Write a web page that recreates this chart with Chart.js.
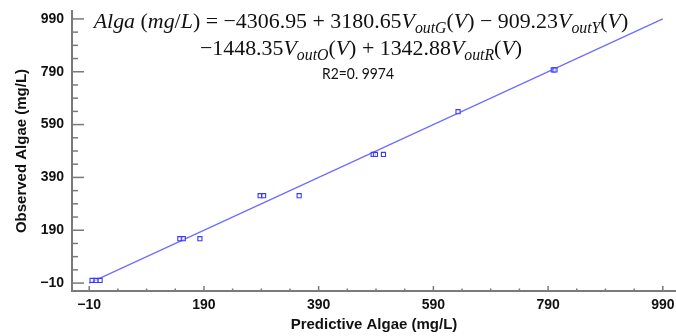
<!DOCTYPE html>
<html>
<head>
<meta charset="utf-8">
<script src="https://cdn.jsdelivr.net/npm/chart.js@4/dist/chart.umd.min.js"></script>
<style>
html,body{margin:0;padding:0;background:#fff;}
#wrap{width:676px;height:336px;position:relative;}
</style>
</head>
<body>
<div id="wrap"><canvas id="c" width="676" height="336"></canvas></div>
<script>
// ---- data ----
const predictedAlgae = [-5, 2, 9, 148, 154, 183, 288, 294, 356, 485, 489, 503, 633, 799, 802];
const observedAlgae  = [0, 0, 0, 158, 158, 158, 321, 321, 321, 477, 477, 477, 639, 797, 797];
const fitLineX = [-10, 990];
const fitLineY = [-10, 990];
const majorTicks = [-10, 190, 390, 590, 790, 990];
const minorTicks = [40, 90, 140, 240, 290, 340, 440, 490, 540, 640, 690, 740, 840, 890, 940];
const majorTickLabels = ['\u221210', '190', '390', '590', '790', '990'];
const xAxisTitle = 'Predictive Algae (mg/L)';
const yAxisTitle = 'Observed Algae (mg/L)';
const equationLine1 = [
  ['Alga','i'],[' (','r'],['mg','i'],['/','r'],['L','i'],[') = \u22124306.95 + 3180.65','r'],
  ['V','i'],['outG','s'],['(','r'],['V','i'],[') \u2212 909.23','r'],
  ['V','i'],['outY','s'],['(','r'],['V','i'],[')','r']
];
const equationLine2 = [
  ['\u22121448.35','r'],['V','i'],['outO','s'],['(','r'],['V','i'],[') + 1342.88','r'],
  ['V','i'],['outR','s'],['(','r'],['V','i'],[')','r']
];
const r2Text = 'R2=0. 9974';

const allTicks = majorTicks.concat(minorTicks).sort((a,b)=>a-b);
const axisGray = '#7a7a7a';
const tickFont = {family:'"Liberation Sans", Arial, sans-serif', weight:'bold', size:14};
const titleFont = {family:'"Liberation Sans", Arial, sans-serif', weight:'bold', size:15};

function labelFor(v){
  const i = majorTicks.indexOf(v);
  return i >= 0 ? majorTickLabels[i] : '';
}

const tickMarks = {
  id:'tickMarks',
  afterDraw(chart){
    const {ctx, scales:{x, y}, chartArea:a} = chart;
    ctx.save();
    ctx.strokeStyle = axisGray;
    ctx.lineWidth = 1.5;
    allTicks.forEach(v => {
      const major = majorTicks.includes(v);
      const py = y.getPixelForValue(v);
      ctx.beginPath(); ctx.moveTo(a.left, py); ctx.lineTo(a.left + (major ? 12 : 6), py); ctx.stroke();
      const px = x.getPixelForValue(v);
      ctx.beginPath(); ctx.moveTo(px, a.bottom); ctx.lineTo(px, a.bottom - (major ? 5 : 2.5)); ctx.stroke();
    });
    ctx.restore();
  }
};

function fontFor(kind, fs){
  const fam = '"Liberation Serif", "Times New Roman", serif';
  if (kind === 'i') return 'italic ' + fs + 'px ' + fam;
  if (kind === 's') return 'italic ' + (fs*0.72).toFixed(2) + 'px ' + fam;
  return fs + 'px ' + fam;
}
function lineWidth(ctx, segs, fs){
  let w = 0;
  segs.forEach(([t,k]) => { ctx.font = fontFor(k, fs); w += ctx.measureText(t).width; });
  return w;
}
function drawLine(ctx, segs, fs, cx, baseY){
  let x = cx - lineWidth(ctx, segs, fs)/2;
  segs.forEach(([t,k]) => {
    ctx.font = fontFor(k, fs);
    ctx.fillText(t, x, k === 's' ? baseY + fs*0.22 : baseY);
    x += ctx.measureText(t).width;
  });
}

const equationPlugin = {
  id:'equation',
  afterDraw(chart){
    const ctx = chart.ctx;
    ctx.save();
    ctx.fillStyle = '#111';
    ctx.textBaseline = 'alphabetic';
    const w20 = lineWidth(ctx, equationLine1, 20);
    const fs = 20 * 535 / w20;
    drawLine(ctx, equationLine1, fs, 361, 28);
    drawLine(ctx, equationLine2, fs, 361, 55);
    // R2 label: Calibri-like narrow sans
    ctx.font = '15.5px Lato, sans-serif';
    const rw = ctx.measureText(r2Text).width;
    const sx = Math.min(1, 72 / rw);
    ctx.translate(358, 79);
    ctx.scale(sx, 1);
    ctx.textAlign = 'center';
    ctx.fillText(r2Text, 0, 0);
    ctx.restore();
  }
};

new Chart(document.getElementById('c'), {
  type:'scatter',
  data:{
    datasets:[
      {
        type:'line',
        data: fitLineX.map((x,i)=>({x, y: fitLineY[i]})),
        borderColor:'#6e6eff',
        borderWidth:1.3,
        pointRadius:0,
        fill:false,
        order:2
      },
      {
        data: predictedAlgae.map((x,i)=>({x, y: observedAlgae[i]})),
        pointStyle:'rect',
        pointRadius:2.9,
        borderColor:'#3a3aff',
        backgroundColor:'rgba(255,255,255,0.6)',
        borderWidth:1.1,
        order:1
      }
    ]
  },
  options:{
    responsive:false,
    animation:false,
    events:[],
    layout:{autoPadding:false, padding:{left:0, right:0, top:11, bottom:0}},
    plugins:{legend:{display:false}, tooltip:{enabled:false}},
    scales:{
      x:{
        type:'linear', min:-40, max:1013,
        border:{display:true, color:axisGray, width:2},
        grid:{display:false, drawTicks:false},
        afterBuildTicks: s => { s.ticks = allTicks.map(v => ({value:v})); },
        afterFit: s => { s.height = 45; s.paddingLeft = 0; s.paddingRight = 0; },
        ticks:{autoSkip:false, maxRotation:0, padding:6, color:'#111', font:tickFont, callback: v => labelFor(v)},
        title:{display:true, text:xAxisTitle, color:'#111', font:titleFont, padding:{top:0, bottom:2}}
      },
      y:{
        type:'linear', min:-40, max:1020,
        border:{display:true, color:axisGray, width:2},
        grid:{display:false, drawTicks:false},
        afterBuildTicks: s => { s.ticks = allTicks.map(v => ({value:v})); },
        afterFit: s => { s.width = 72; s.paddingTop = 0; s.paddingBottom = 0; },
        ticks:{autoSkip:false, padding:8, color:'#111', font:tickFont, callback: v => labelFor(v)},
        title:{display:true, text:yAxisTitle, color:'#111', font:titleFont, padding:{top:13, bottom:0}}
      }
    }
  },
  plugins:[tickMarks, equationPlugin]
});
</script>
</body>
</html>
